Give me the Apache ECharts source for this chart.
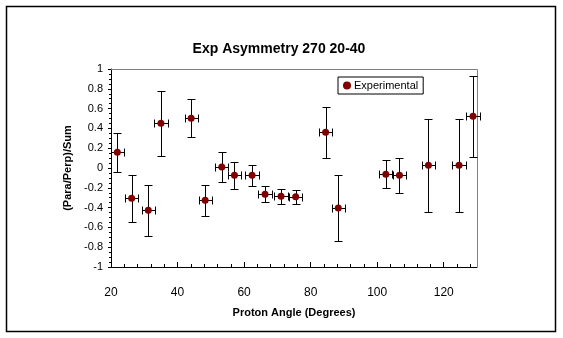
<!DOCTYPE html>
<html>
<head>
<meta charset="utf-8">
<script src="https://cdn.jsdelivr.net/npm/echarts@6/dist/echarts.min.js"></script>
<style>
html,body{margin:0;padding:0;background:#fff;}
#c{width:563px;height:338px;}
</style>
</head>
<body>
<div id="c"></div>
<script>
const angles = [21.9, 26.2, 31.2, 35.0, 44.1, 48.3, 53.3, 57.1, 62.4, 66.3, 71.1, 75.5, 84.5, 88.3, 102.6, 106.7, 115.4, 124.6, 128.8];
const asym = [0.158, -0.306, -0.427, 0.451, 0.502, -0.327, 0.010, -0.074, -0.074, -0.266, -0.286, -0.290, 0.360, -0.404, -0.064, -0.074, 0.027, 0.027, 0.522];
const asymErr = [0.197, 0.236, 0.256, 0.330, 0.190, 0.160, 0.147, 0.136, 0.106, 0.080, 0.076, 0.070, 0.256, 0.330, 0.140, 0.180, 0.470, 0.470, 0.410];
const angleErr = [2, 2, 2, 2, 2, 2, 2, 2, 2, 2, 2, 2, 2, 2, 2, 2, 2, 2, 2];
const xTicks = { min: 20, max: 130, step: 20 };
const yTicks = { min: -1, max: 1, step: 0.2 };

const points = angles.map((a, i) => [a, asym[i]]);
const errData = angles.map((a, i) => [a, asym[i], asymErr[i], angleErr[i]]);

const chart = echarts.init(document.getElementById('c'), null, { renderer: 'canvas' });
const font = 'Arial, "Liberation Sans", sans-serif';

chart.setOption({
  animation: false,
  backgroundColor: '#fff',
  title: {
    text: 'Exp Asymmetry 270 20-40',
    left: 274, top: 37, textAlign: 'center',
    textStyle: { fontFamily: font, fontSize: 14, fontWeight: 'bold', color: '#000' }
  },
  legend: {
    data: [{ name: 'Experimental', icon: 'circle' }],
    left: 338, top: 77,
    itemWidth: 8, itemHeight: 8, itemGap: 4,
    padding: [3, 5, 3, 5],
    borderColor: '#000', borderWidth: 1, backgroundColor: '#fff',
    textStyle: { fontFamily: font, fontSize: 11, color: '#000', padding: [0, 0, 0, -2] }
  },
  graphic: [{
    type: 'rect', shape: { x: 6.5, y: 6.5, width: 549, height: 325 },
    style: { fill: 'none', stroke: '#000', lineWidth: 1.5 }, silent: true, z: -1
  }, {
    type: 'polyline', shape: { points: [[111, 69.5], [477.5, 69.5], [477.5, 267]] },
    style: { fill: 'none', stroke: '#808080', lineWidth: 1 }, silent: true, z: 1
  }],
  grid: { left: 111, top: 69, right: 86, bottom: 71, containLabel: false },
  xAxis: {
    type: 'value', min: xTicks.min, max: xTicks.max, interval: xTicks.step,
    name: 'Proton Angle (Degrees)', nameLocation: 'middle', nameGap: 40,
    nameTextStyle: { fontFamily: font, fontSize: 11, fontWeight: 'bold', color: '#000' },
    axisLine: { onZero: false, lineStyle: { color: '#000', width: 1 } },
    axisTick: { inside: true, length: 5, lineStyle: { color: '#000' } },
    minorTick: { show: true, splitNumber: 5, length: 3, lineStyle: { color: '#000' } },
    axisLabel: { fontFamily: font, fontSize: 12, color: '#000', margin: 20,
      formatter: v => (v > 125 ? '' : String(v)) },
    splitLine: { show: false }
  },
  yAxis: {
    type: 'value', min: yTicks.min, max: yTicks.max, interval: yTicks.step,
    name: '(Para/Perp)/Sum', nameLocation: 'middle', nameGap: 38,
    nameTextStyle: { fontFamily: font, fontSize: 11, fontWeight: 'bold', color: '#000' },
    axisLine: { onZero: false, lineStyle: { color: '#000', width: 1 } },
    axisTick: { inside: false, length: 3, lineStyle: { color: '#000' } },
    minorTick: { show: true, splitNumber: 4, length: 2, lineStyle: { color: '#000' } },
    axisLabel: { fontFamily: font, fontSize: 11, color: '#000', margin: 8,
      formatter: v => String(Math.round(v * 10) / 10) },
    splitLine: { show: false }
  },
  series: [{
    type: 'custom',
    name: 'errors',
    data: errData,
    z: 2,
    renderItem: function (params, api) {
      const x = api.value(0), y = api.value(1), ey = api.value(2), ex = api.value(3);
      const r = v => Math.round(v) + 0.5;
      const top = api.coord([x, y + ey]);
      const bot = api.coord([x, y - ey]);
      const lft = api.coord([x - ex, y]);
      const rgt = api.coord([x + ex, y]);
      const cx = r(top[0]), cy = r(lft[1]);
      const c = 4;
      const st = { stroke: '#000', lineWidth: 1 };
      return {
        type: 'group',
        children: [
          { type: 'line', shape: { x1: cx, y1: r(top[1]), x2: cx, y2: r(bot[1]) }, style: st },
          { type: 'line', shape: { x1: cx - c, y1: r(top[1]), x2: cx + c, y2: r(top[1]) }, style: st },
          { type: 'line', shape: { x1: cx - c, y1: r(bot[1]), x2: cx + c, y2: r(bot[1]) }, style: st },
          { type: 'line', shape: { x1: r(lft[0]), y1: cy, x2: r(rgt[0]), y2: cy }, style: st },
          { type: 'line', shape: { x1: r(lft[0]), y1: cy - c, x2: r(lft[0]), y2: cy + c }, style: st },
          { type: 'line', shape: { x1: r(rgt[0]), y1: cy - c, x2: r(rgt[0]), y2: cy + c }, style: st }
        ]
      };
    },
    silent: true
  }, {
    type: 'scatter',
    name: 'Experimental',
    data: points,
    symbol: 'circle',
    symbolSize: 7,
    z: 3,
    itemStyle: { color: '#800000', opacity: 1 }
  }]
});
</script>
</body>
</html>
